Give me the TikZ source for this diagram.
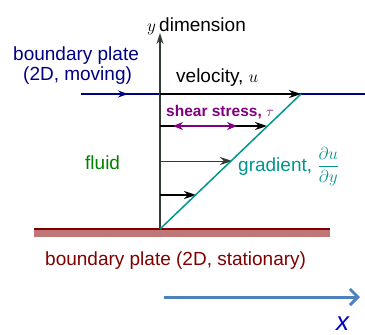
\documentclass[tikz,border=0pt]{standalone}
\usepackage{fontspec}
\setmainfont{Liberation Sans}
\usetikzlibrary{arrows.meta,positioning,calc}
\definecolor{plnavy}{RGB}{0,0,128}
\definecolor{plred}{RGB}{128,0,0}
\definecolor{plrose}{RGB}{192,118,118}
\definecolor{plteal}{RGB}{0,150,140}
\definecolor{plpurple}{RGB}{128,0,128}
\definecolor{plgreen}{RGB}{0,128,0}
\definecolor{plsteel}{RGB}{79,129,189}
\definecolor{plxblue}{RGB}{0,0,204}
\definecolor{plaxis}{RGB}{50,60,50}
\begin{document}
\begin{tikzpicture}[x=1pt,y=-1pt,
  lbl/.style={inner sep=0pt,anchor=base west,font=\fontsize{19}{22}\selectfont},
  velarr/.style={-{Stealth[length=12pt,width=8pt]},black,line width=2.2pt},
  thinarr/.style={-{Stealth[length=12pt,width=8pt]},plaxis,line width=1pt}
]
  \useasboundingbox (0,0) rectangle (365,335);
  % key points
  \coordinate (base) at (160,229);
  \coordinate (ytop) at (160,33);
  \coordinate (gtop) at (301,94);
  \coordinate (a1) at (160,126);
  \coordinate (a2) at (160,161);
  \coordinate (a3) at (160,195);
  \coordinate (g1) at (267,126);
  \coordinate (g2) at (232,161);
  \coordinate (g3) at (196,195);
  % stationary plate
  \fill[plrose] (34,229) rectangle (330,237);
  \draw[plred,line width=1.2pt] (34,229) coordinate (bl) -- (330,229) coordinate (br);
  % moving plate
  \draw[plnavy,line width=2pt] (81,94) coordinate (tl) -- (365,94) coordinate (tr);
  \draw[plnavy,line width=2pt,-{Stealth[length=10pt,width=7pt]}] (112,94) coordinate (m1) -- (128,94) coordinate (m2);
  % y axis
  \draw[plaxis,line width=1.8pt,-{Stealth[length=11pt,width=7pt]}] (base) -- (ytop);
  % velocity profile
  \draw[velarr,line width=2.6pt] (160,94) coordinate (vtop) -- (gtop);
  \draw[velarr] (a1) -- (g1);
  \draw[thinarr] (a2) -- (g2);
  \draw[velarr] (a3) -- (g3);
  \draw[plteal,line width=1.5pt] (base) -- (gtop);
  % shear stress
  \draw[plpurple,line width=2.4pt,{Stealth[length=10pt,width=8pt]}-{Stealth[length=10pt,width=8pt]}] (173,126) coordinate (s1) -- (237,126) coordinate (s2);
  % x direction
  \draw[plsteel,line width=3pt,-{Straight Barb[length=8pt,width=16pt]}] (164,297) coordinate (x1) -- (360,297) coordinate (x2);
  % labels
  \node[lbl] (ylab) at (147,31) {$y$\,dimension};
  \node[lbl,text=plnavy] (topl1) at (13,60) {boundary plate};
  \node[lbl,text=plnavy] (topl2) at (23,80) {(2D, moving)};
  \node[lbl] (vel) at (176,82) {velocity, $u$};
  \node[lbl,text=plpurple,font=\fontsize{15.5}{18}\selectfont\bfseries] (shear) at (166,116) {shear stress, $\tau$};
  \node[lbl,text=plgreen] (fluid) at (85,169) {fluid};
  \node[lbl,text=plteal] (grad) at (238,171) {gradient, $\displaystyle\frac{\partial u}{\partial y}$};
  \node[lbl,text=plred] (botl) at (45,265) {boundary plate (2D, stationary)};
  \node[lbl,text=plxblue,font=\fontsize{26}{30}\selectfont\itshape] (xlab) at (336,330) {x};
\end{tikzpicture}
\end{document}
